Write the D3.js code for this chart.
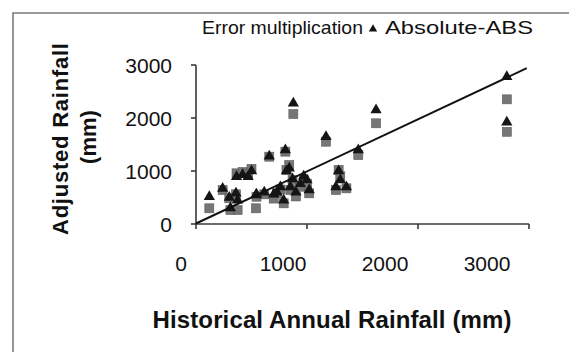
<!doctype html>
<html>
<head>
<meta charset="utf-8"/>
<title>Adjusted vs Historical Rainfall</title>
<script src="https://d3js.org/d3.v7.min.js"></script>
<style>
body { margin:0; background:#fff; }
text { font-family: "Liberation Sans", Arial, sans-serif; fill:#111; }
</style>
</head>
<body>
<script type="text/javascript">
// historical annual rainfall (mm) per station
var hist = [120, 240, 300, 310, 360, 375, 365, 420, 470, 500, 540, 545, 615, 660, 700, 730, 760, 790,
            805, 815, 840, 850, 870, 877, 900, 940, 970, 1000, 1020, 1171, 1260, 1285, 1300, 1355,
            1462, 1622, 2800, 2800];
// adjusted rainfall, Error multiplication
var errMult = [296, 640, 485, 264, 560, 264, 956, 980, 940, 1040, 296, 515, 560, 1270, 480, 579, 650, 390,
               1365, 1019, 1113, 641, 830, 2075, 520, 704, 830, 760, 579, 1553, 641, 1019, 900, 673,
               1300, 1900, 2352, 1740];
// adjusted rainfall, Absolute-ABS
var absABS = [515, 670, 500, 300, 579, 450, 893, 930, 893, 1000, 547, 560, 600, 1280, 560, 600, 700, 450,
              1396, 1000, 1050, 700, 850, 2277, 600, 760, 900, 830, 641, 1647, 700, 1000, 830, 700,
              1396, 2151, 2780, 1920];
// trend line
var trendX = [0, 2980];
var trendY = [10, 2940];
var ticks = [0, 1000, 2000, 3000];

var svg = d3.select("body").append("svg")
    .attr("width", 569)
    .attr("height", 352);

svg.append("rect")
    .attr("width", 569).attr("height", 352)
    .attr("fill", "#fff");

// outer frame (left and top only visible)
svg.append("path")
    .attr("d", "M13,352 V13 H569")
    .attr("fill", "none")
    .attr("stroke", "#7a7a7a")
    .attr("stroke-width", 1.6);

var x = d3.scaleLinear().domain([0, 3000]).range([196, 529]);
var y = d3.scaleLinear().domain([0, 3000]).range([224, 65]);
// tick labels sit a bit left of the ticks in the original
var xLab = d3.scaleLinear().domain([0, 3000]).range([181, 487]);

var axisCol = "#3a3a3a";
var axisW = 1.6;

// x axis line + ticks
svg.append("line")
    .attr("x1", x(0)).attr("x2", x(3000))
    .attr("y1", y(0)).attr("y2", y(0))
    .attr("stroke", axisCol).attr("stroke-width", axisW);
svg.selectAll(".xtick")
    .data(ticks)
    .enter().append("line")
    .attr("class", "xtick")
    .attr("x1", function(d){ return x(d); })
    .attr("x2", function(d){ return x(d); })
    .attr("y1", y(0)).attr("y2", y(0) + 5)
    .attr("stroke", axisCol).attr("stroke-width", axisW);

// y axis line + ticks
svg.append("line")
    .attr("x1", x(0)).attr("x2", x(0))
    .attr("y1", y(3000)).attr("y2", y(0))
    .attr("stroke", axisCol).attr("stroke-width", axisW);
svg.selectAll(".ytick")
    .data(ticks)
    .enter().append("line")
    .attr("class", "ytick")
    .attr("x1", x(0) - 5).attr("x2", x(0))
    .attr("y1", function(d){ return y(d); })
    .attr("y2", function(d){ return y(d); })
    .attr("stroke", axisCol).attr("stroke-width", axisW);

svg.selectAll(".ylab")
    .data(ticks)
    .enter().append("text")
    .attr("class", "ylab")
    .attr("x", 172)
    .attr("y", function(d){ return y(d); })
    .attr("dy", "0.36em")
    .attr("text-anchor", "end")
    .attr("font-size", 21)
    .text(function(d){ return d; });

svg.selectAll(".xlab")
    .data(ticks)
    .enter().append("text")
    .attr("class", "xlab")
    .attr("x", function(d){ return xLab(d); })
    .attr("y", 271)
    .attr("text-anchor", "middle")
    .attr("font-size", 21)
    .text(function(d){ return d; });

// squares: Error multiplication
svg.selectAll(".sq")
    .data(hist)
    .enter().append("rect")
    .attr("class", "sq")
    .attr("x", function(d){ return x(d) - 4.5; })
    .attr("y", function(d, i){ return y(errMult[i]) - 4.5; })
    .attr("width", 9)
    .attr("height", 9)
    .attr("fill", "#767676")
    .attr("stroke", "#5a5a5a")
    .attr("stroke-width", 0.6);

// triangles: Absolute-ABS
var tri = d3.symbol().type(d3.symbolTriangle).size(55);
svg.selectAll(".tri")
    .data(hist)
    .enter().append("path")
    .attr("class", "tri")
    .attr("d", tri)
    .attr("transform", function(d, i){ return "translate(" + x(d) + "," + y(absABS[i]) + ")"; })
    .attr("fill", "#151515");

// trend line
svg.append("line")
    .attr("x1", x(trendX[0])).attr("y1", y(trendY[0]))
    .attr("x2", x(trendX[1])).attr("y2", y(trendY[1]))
    .attr("stroke", "#111")
    .attr("stroke-width", 2);

// legend
svg.append("text")
    .attr("x", 202).attr("y", 34)
    .attr("font-size", 19)
    .attr("textLength", 161)
    .attr("lengthAdjust", "spacingAndGlyphs")
    .text("Error multiplication");
svg.append("path")
    .attr("d", d3.symbol().type(d3.symbolTriangle).size(30))
    .attr("transform", "translate(373,29)")
    .attr("fill", "#111");
svg.append("text")
    .attr("x", 385).attr("y", 34)
    .attr("font-size", 19)
    .attr("textLength", 148)
    .attr("lengthAdjust", "spacingAndGlyphs")
    .text("Absolute-ABS");

// axis titles
svg.append("text")
    .attr("x", 332).attr("y", 328)
    .attr("text-anchor", "middle")
    .attr("font-size", 24)
    .attr("font-weight", "bold")
    .attr("textLength", 359)
    .text("Historical Annual Rainfall (mm)");

svg.append("text")
    .attr("transform", "translate(68,139) rotate(-90)")
    .attr("text-anchor", "middle")
    .attr("font-size", 22)
    .attr("font-weight", "bold")
    .attr("textLength", 192)
    .text("Adjusted Rainfall");
svg.append("text")
    .attr("transform", "translate(96,137) rotate(-90)")
    .attr("text-anchor", "middle")
    .attr("font-size", 22)
    .attr("font-weight", "bold")
    .text("(mm)");
</script>
</body>
</html>
